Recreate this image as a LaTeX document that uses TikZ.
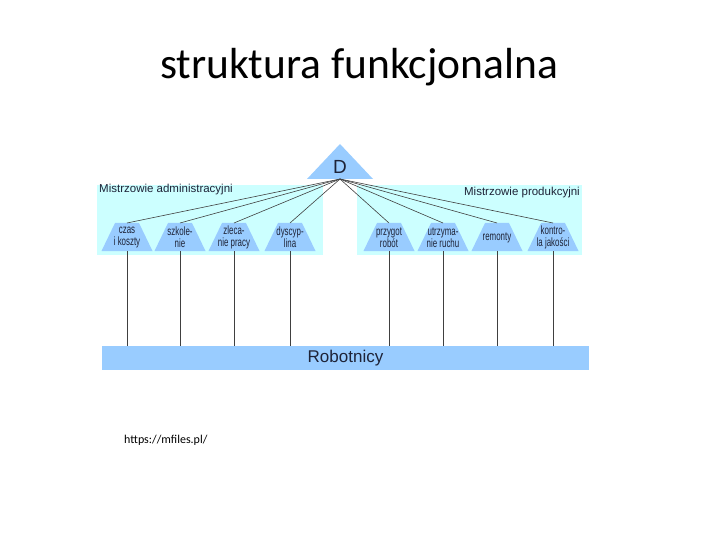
\documentclass[tikz,border=0pt]{standalone}
\usepackage{fontspec}
\setmainfont{Carlito}
\newfontfamily\arialf{Liberation Sans}
\newfontfamily\narrowf[FakeStretch=0.66]{Liberation Sans}
\usetikzlibrary{calc}
\definecolor{bluebox}{RGB}{153,204,255}
\definecolor{cyanbox}{RGB}{204,255,255}
\definecolor{txtc}{RGB}{30,35,55}

\begin{document}
\begin{tikzpicture}[x=1pt,y=-1pt,
  traptext/.style={font=\narrowf\fontsize{12}{12}\selectfont,text=txtc,align=center,inner sep=0pt},
  grp/.style={fill=cyanbox},
  conn/.style={draw=black!75,line width=0.6pt}]
\useasboundingbox (0,0) rectangle (720,540);
\node[font=\fontsize{43.5}{43.5}\selectfont,anchor=base] (title) at (359,79) {struktura funkcjonalna};

\fill[grp] (97,185) rectangle (323,255);
\fill[grp] (357,185) rectangle (582,255);
\node[font=\arialf\fontsize{11.5}{12}\selectfont,text=txtc,anchor=west,inner sep=0pt] (adm) at (99,190) {Mistrzowie administracyjni};
\node[font=\arialf\fontsize{11.5}{12}\selectfont,text=txtc,anchor=east,inner sep=0pt] (prod) at (580,193) {Mistrzowie produkcyjni};

\fill[bluebox] (340,144) -- (373,179) -- (307,179) -- cycle;
\node[font=\arialf\fontsize{19}{19}\selectfont,text=txtc,inner sep=0pt] (D) at (340,167) {D};
\coordinate (Dbase) at (340,179);

\node[fill=bluebox,minimum width=487pt,minimum height=24pt,inner sep=0pt,
  font=\arialf\fontsize{17}{17}\selectfont,text=txtc] (rob) at (345.5,358) {Robotnicy};

\foreach \n/\x/\t in {a1/127/{czas\\i koszty},a2/180/{szkole-\\nie},a3/234/{zleca-\\nie pracy},a4/290/{dyscyp-\\lina},
  p1/389/{przygot\\robót},p2/443/{utrzyma-\\nie ruchu},p3/497/{remonty},p4/553/{kontro-\\la jakości}}{
  \fill[bluebox] (\x-12,223) -- (\x+12,223) -- (\x+25.5,251) -- (\x-25.5,251) -- cycle;
  \coordinate (\n top) at (\x,223);
  \coordinate (\n bot) at (\x,251);
  \node[traptext] (\n) at (\x,237.5) {\t};
  \draw[conn] (Dbase) -- (\n top);
  \draw[conn] (\n bot) -- (\n bot |- rob.north);
}

\node[font=\fontsize{12}{12}\selectfont,anchor=west,inner sep=0pt] (url) at (124,440) {https://mfiles.pl/};
\end{tikzpicture}
\end{document}
